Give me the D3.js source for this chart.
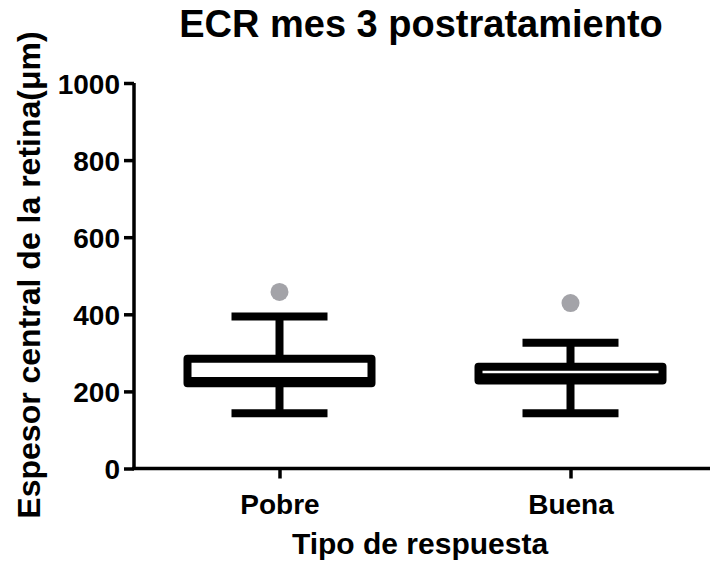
<!DOCTYPE html>
<html>
<head>
<meta charset="utf-8">
<script src="https://cdn.jsdelivr.net/npm/d3@7"></script>
<style>
  html, body { margin: 0; padding: 0; background: #fff; }
  svg { display: block; }
  text { font-family: "Liberation Sans", Arial, Helvetica, sans-serif; font-weight: bold; fill: #000; }
</style>
</head>
<body>
<svg id="chart" width="710" height="562"></svg>
<script>
// Box-plot summaries per response group (µm)
const categories  = ["Pobre", "Buena"];
const whiskerLow  = [143, 143];
const q1          = [221, 228];
const median      = [227, 237];
const q3          = [285, 264];
const whiskerHigh = [394, 326];
const outliers    = [[458], [429]];
const yTicks      = [0, 200, 400, 600, 800, 1000];

const svg = d3.select("#chart");

const x = d3.scalePoint().domain(categories).range([134, 716]).padding(0.5);
const y = d3.scaleLinear().domain([0, 1000]).range([468.5, 83]);

const boxW = 184, capW = 96, sw = 8;

// Y axis
const yAxis = svg.append("g")
  .attr("transform", "translate(134,0)")
  .call(d3.axisLeft(y).tickValues(yTicks).tickSize(10).tickPadding(4).tickFormat(d3.format("d")));
yAxis.selectAll("path, line").attr("stroke", "#000").attr("stroke-width", 3.5);
yAxis.select(".domain").attr("d", `M0,${y(1000)}V${y(0)}`);
yAxis.selectAll("text").style("font-size", "28px").style("font-family", "'Liberation Sans', Arial, sans-serif").style("font-weight", "bold").attr("dy", "0.36em");

// X axis
const xAxis = svg.append("g")
  .attr("transform", `translate(0,${y(0)})`)
  .call(d3.axisBottom(x).tickSize(10).tickPadding(16));
xAxis.selectAll("path, line").attr("stroke", "#000").attr("stroke-width", 3.5);
xAxis.select(".domain").attr("d", `M132,0H716`);
xAxis.selectAll("text").style("font-size", "28px").style("font-family", "'Liberation Sans', Arial, sans-serif").style("font-weight", "bold");

// Boxes, whiskers and caps
const g = svg.append("g");
categories.forEach((c, i) => {
  const cx = x(c);
  const line = (x1, y1, x2, y2) => g.append("line")
    .attr("x1", x1).attr("y1", y1).attr("x2", x2).attr("y2", y2)
    .attr("stroke", "#000").attr("stroke-width", sw);

  // whiskers
  line(cx, y(whiskerHigh[i]), cx, y(q3[i]));
  line(cx, y(q1[i]), cx, y(whiskerLow[i]));
  // caps
  line(cx - capW / 2, y(whiskerHigh[i]), cx + capW / 2, y(whiskerHigh[i]));
  line(cx - capW / 2, y(whiskerLow[i]), cx + capW / 2, y(whiskerLow[i]));
  // box
  g.append("rect")
    .attr("x", cx - boxW / 2).attr("width", boxW)
    .attr("y", y(q3[i])).attr("height", y(q1[i]) - y(q3[i]))
    .attr("fill", "#fff").attr("stroke", "#000").attr("stroke-width", sw)
    .attr("stroke-linejoin", "round");
  // median
  line(cx - boxW / 2, y(median[i]), cx + boxW / 2, y(median[i]));

  // outliers
  outliers[i].forEach(v => {
    g.append("circle").attr("cx", cx).attr("cy", y(v)).attr("r", 9).attr("fill", "#a3a3a8");
  });
});

// Titles
svg.append("text").attr("x", 421).attr("y", 37).attr("text-anchor", "middle")
  .style("font-size", "38px").text("ECR mes 3 postratamiento");
svg.append("text").attr("x", 420).attr("y", 554).attr("text-anchor", "middle")
  .style("font-size", "30px").text("Tipo de respuesta");
svg.append("text").attr("transform", "translate(40,275) rotate(-90)").attr("text-anchor", "middle")
  .style("font-size", "32px").text("Espesor central de la retina(μm)");
</script>
</body>
</html>
